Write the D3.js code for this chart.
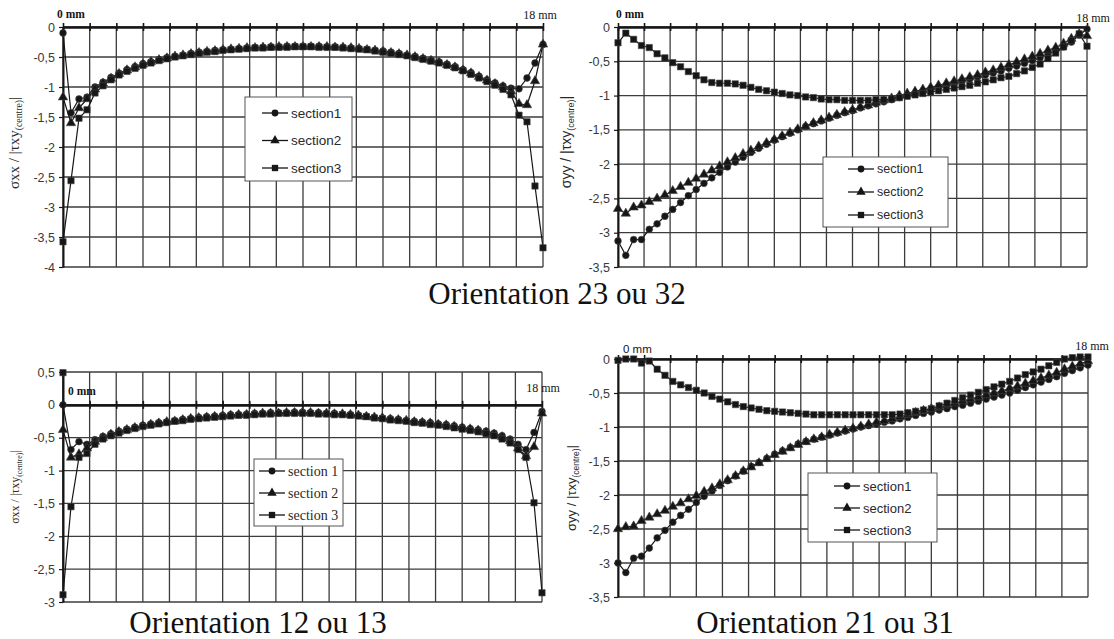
<!DOCTYPE html>
<html>
<head>
<meta charset="utf-8">
<script src="https://cdnjs.cloudflare.com/ajax/libs/d3/7.8.5/d3.min.js"></script>
<style>
  body { margin: 0; background: #fff; }
  svg { display: block; }
</style>
</head>
<body>
<svg id="chart" width="1114" height="639"></svg>
<script>
// positions along the specimen (mm)
const positionsMm = [
  0, 0.3, 0.6, 0.9, 1.2, 1.5, 1.8, 2.1, 2.4, 2.7,
  3, 3.3, 3.6, 3.9, 4.2, 4.5, 4.8, 5.1, 5.4, 5.7,
  6, 6.3, 6.6, 6.9, 7.2, 7.5, 7.8, 8.1, 8.4, 8.7,
  9, 9.3, 9.6, 9.9, 10.2, 10.5, 10.8, 11.1, 11.4, 11.7,
  12, 12.3, 12.6, 12.9, 13.2, 13.5, 13.8, 14.1, 14.4, 14.7,
  15, 15.3, 15.6, 15.9, 16.2, 16.5, 16.8, 17.1, 17.4, 17.7,
  18
];
// section3 of orientation 12 has an extra point at 0 mm
const positionsMmLead = [0].concat(positionsMm);
const gridMm = [0, 1, 2, 3, 4, 5, 6, 7, 8, 9, 10, 11, 12, 13, 14, 15, 16, 17, 18];

const ticksXx23 = [0, -0.5, -1, -1.5, -2, -2.5, -3, -3.5, -4];
const ticksYy = [0, -0.5, -1, -1.5, -2, -2.5, -3, -3.5];
const ticksXx12 = [0.5, 0, -0.5, -1, -1.5, -2, -2.5, -3];

const sectionLabels = ['section1', 'section2', 'section3'];
const sectionLabelsSpaced = ['section 1', 'section 2', 'section 3'];

// Orientation 23 ou 32, sigma xx
const xx23Sec1 = [
  -0.1, -1.43, -1.2, -1.17, -1.0, -0.92, -0.84, -0.77, -0.71, -0.66,
  -0.61, -0.58, -0.54, -0.51, -0.49, -0.47, -0.44, -0.42, -0.41, -0.39,
  -0.38, -0.37, -0.36, -0.35, -0.34, -0.34, -0.33, -0.33, -0.32, -0.32,
  -0.32, -0.32, -0.32, -0.33, -0.33, -0.34, -0.35, -0.36, -0.37, -0.39,
  -0.4, -0.42, -0.44, -0.47, -0.49, -0.52, -0.55, -0.58, -0.62, -0.66,
  -0.71, -0.76, -0.82, -0.88, -0.93, -0.98, -1.02, -1.03, -0.85, -0.6,
  -0.29
];
const xx23Sec2 = [
  -1.17, -1.6, -1.35, -1.2, -1.04, -0.94, -0.86, -0.78, -0.72, -0.67,
  -0.62, -0.58, -0.55, -0.52, -0.49, -0.47, -0.45, -0.43, -0.41, -0.4,
  -0.38, -0.37, -0.36, -0.35, -0.35, -0.34, -0.34, -0.33, -0.33, -0.33,
  -0.33, -0.33, -0.33, -0.33, -0.34, -0.34, -0.35, -0.36, -0.38, -0.39,
  -0.41, -0.43, -0.45, -0.47, -0.5, -0.53, -0.56, -0.59, -0.63, -0.67,
  -0.72, -0.77, -0.83, -0.89, -0.95, -1.0, -1.07, -1.28, -1.3, -0.9,
  -0.29
];
const xx23Sec3 = [
  -3.58, -2.56, -1.52, -1.38, -1.1, -0.98, -0.88, -0.8, -0.74, -0.69,
  -0.64, -0.6, -0.56, -0.53, -0.5, -0.48, -0.46, -0.44, -0.42, -0.41,
  -0.39, -0.38, -0.37, -0.36, -0.35, -0.35, -0.34, -0.34, -0.34, -0.33,
  -0.33, -0.33, -0.34, -0.34, -0.34, -0.35, -0.36, -0.37, -0.38, -0.4,
  -0.42, -0.44, -0.46, -0.48, -0.51, -0.54, -0.57, -0.6, -0.64, -0.68,
  -0.73, -0.79, -0.85, -0.91, -0.97, -1.04, -1.13, -1.47, -1.58, -2.65,
  -3.68
];

// Orientation 23 ou 32, sigma yy
const yy23Sec1 = [
  -3.12, -3.33, -3.1, -3.1, -2.95, -2.87, -2.76, -2.66, -2.56, -2.46,
  -2.37, -2.28, -2.2, -2.12, -2.04, -1.97, -1.9, -1.83, -1.77, -1.71,
  -1.65, -1.6, -1.55, -1.5, -1.45, -1.41, -1.37, -1.33, -1.29, -1.25,
  -1.22, -1.18, -1.15, -1.12, -1.09, -1.06, -1.03, -1.0, -0.97, -0.94,
  -0.91, -0.88, -0.85, -0.82, -0.79, -0.76, -0.73, -0.7, -0.67, -0.64,
  -0.6, -0.57, -0.53, -0.49, -0.45, -0.4, -0.35, -0.29, -0.22, -0.12,
  -0.03
];
const yy23Sec2 = [
  -2.65, -2.72, -2.63, -2.6, -2.55, -2.5, -2.45, -2.39, -2.33, -2.27,
  -2.21, -2.15, -2.09, -2.03, -1.97, -1.91, -1.85, -1.8, -1.74, -1.69,
  -1.64, -1.59, -1.54, -1.49, -1.45, -1.4, -1.36, -1.32, -1.28, -1.24,
  -1.21, -1.17, -1.14, -1.1, -1.07, -1.04, -1.0, -0.97, -0.94, -0.91,
  -0.88, -0.85, -0.82, -0.79, -0.76, -0.73, -0.7, -0.66, -0.63, -0.59,
  -0.55, -0.51, -0.47, -0.43, -0.39, -0.34, -0.3, -0.24, -0.17, -0.1,
  -0.13
];
const yy23Sec3 = [
  -0.23, -0.09, -0.18, -0.27, -0.3, -0.39, -0.45, -0.52, -0.58, -0.65,
  -0.71, -0.77, -0.81, -0.82, -0.82, -0.83, -0.85, -0.88, -0.91, -0.93,
  -0.95, -0.97, -0.99, -1.0, -1.02, -1.03, -1.05, -1.06, -1.06, -1.07,
  -1.07, -1.07, -1.07, -1.06, -1.06, -1.05, -1.03, -1.01, -0.99, -0.97,
  -0.95, -0.93, -0.91, -0.89, -0.87, -0.85, -0.82, -0.8, -0.77, -0.74,
  -0.72, -0.68, -0.64, -0.59, -0.54, -0.46, -0.38, -0.29, -0.2, -0.1,
  -0.28
];

// Orientation 12 ou 13, sigma xx
const xx12Sec1 = [
  0.0, -0.68, -0.56, -0.6, -0.53, -0.48, -0.44, -0.4, -0.37, -0.34,
  -0.31, -0.29, -0.27, -0.26, -0.24, -0.22, -0.21, -0.19, -0.18, -0.17,
  -0.16, -0.15, -0.15, -0.14, -0.13, -0.13, -0.12, -0.12, -0.12, -0.11,
  -0.11, -0.12, -0.12, -0.13, -0.13, -0.14, -0.15, -0.16, -0.17, -0.19,
  -0.2, -0.21, -0.22, -0.24, -0.25, -0.26, -0.27, -0.29, -0.3, -0.32,
  -0.34, -0.36, -0.38, -0.4, -0.43, -0.47, -0.52, -0.6, -0.68, -0.42,
  -0.1
];
const xx12Sec2 = [
  -0.38, -0.8, -0.75, -0.66, -0.56, -0.5, -0.45, -0.41, -0.38, -0.35,
  -0.32, -0.3, -0.28, -0.26, -0.25, -0.23, -0.21, -0.2, -0.19, -0.18,
  -0.17, -0.16, -0.15, -0.15, -0.14, -0.13, -0.13, -0.13, -0.12, -0.12,
  -0.12, -0.12, -0.13, -0.13, -0.14, -0.14, -0.15, -0.16, -0.18, -0.19,
  -0.2, -0.22, -0.23, -0.24, -0.26, -0.27, -0.28, -0.3, -0.31, -0.33,
  -0.35, -0.37, -0.39, -0.42, -0.45, -0.49, -0.55, -0.66, -0.78, -0.64,
  -0.13
];
const xx12Sec3 = [
  0.49,
  -2.89, -1.55, -0.8, -0.74, -0.6, -0.52, -0.47, -0.43, -0.39, -0.36,
  -0.33, -0.31, -0.29, -0.27, -0.25, -0.24, -0.22, -0.21, -0.2, -0.19,
  -0.18, -0.17, -0.16, -0.16, -0.15, -0.14, -0.14, -0.13, -0.13, -0.13,
  -0.13, -0.13, -0.14, -0.14, -0.15, -0.15, -0.16, -0.17, -0.18, -0.2,
  -0.21, -0.23, -0.24, -0.25, -0.27, -0.28, -0.3, -0.31, -0.33, -0.35,
  -0.37, -0.39, -0.41, -0.44, -0.47, -0.52, -0.58, -0.68, -0.8, -1.49,
  -2.86
];

// Orientation 21 ou 31, sigma yy
const yy21Sec1 = [
  -3.0, -3.14, -2.93, -2.9, -2.78, -2.63, -2.52, -2.4, -2.3, -2.21,
  -2.11, -2.02, -1.94, -1.86, -1.79, -1.72, -1.65, -1.58, -1.52, -1.46,
  -1.4, -1.35, -1.3, -1.25, -1.21, -1.18, -1.15, -1.12, -1.09, -1.06,
  -1.03, -1.0, -0.98, -0.96, -0.93, -0.91, -0.88, -0.86, -0.83, -0.8,
  -0.78, -0.75, -0.73, -0.7, -0.68, -0.65, -0.62, -0.59, -0.56, -0.53,
  -0.5, -0.46, -0.42, -0.38, -0.34, -0.3, -0.26, -0.21, -0.17, -0.13,
  -0.09
];
const yy21Sec2 = [
  -2.5, -2.47, -2.46, -2.38, -2.33, -2.28, -2.23, -2.17, -2.12, -2.06,
  -2.01, -1.95, -1.9, -1.84, -1.78, -1.72, -1.65, -1.59, -1.53, -1.47,
  -1.41, -1.36, -1.31, -1.26, -1.22, -1.18, -1.15, -1.11, -1.08, -1.05,
  -1.02, -0.99, -0.96, -0.93, -0.91, -0.88, -0.85, -0.82, -0.79, -0.76,
  -0.73, -0.71, -0.68, -0.65, -0.62, -0.59, -0.56, -0.53, -0.5, -0.47,
  -0.43, -0.4, -0.36, -0.32, -0.28, -0.24, -0.2, -0.15, -0.11, -0.07,
  -0.03
];
const yy21Sec3 = [
  -0.02, 0.0, 0.0, -0.06, -0.03, -0.15, -0.24, -0.33, -0.38, -0.42,
  -0.46, -0.5, -0.55, -0.59, -0.63, -0.67, -0.7, -0.72, -0.74, -0.76,
  -0.77, -0.78, -0.79, -0.8, -0.81, -0.82, -0.82, -0.82, -0.82, -0.82,
  -0.82, -0.82, -0.82, -0.82, -0.82, -0.82, -0.81, -0.79, -0.77, -0.75,
  -0.73, -0.69, -0.65, -0.61, -0.57, -0.53, -0.49, -0.45, -0.41, -0.37,
  -0.33, -0.28, -0.23, -0.19, -0.15, -0.1, -0.05, 0.0, 0.02, 0.03,
  0.03
];

const SERIF = '"Liberation Serif", "Times New Roman", serif';
const SANS = '"Liberation Sans", Arial, sans-serif';
const INK = '#161616';
const symbols = [d3.symbolCircle, d3.symbolTriangle, d3.symbolSquare];
const symbolSizes = [36, 38, 40];

const svg = d3.select('#chart');
const fmt = (d) => String(d).replace('.', ',');

function drawPanel(p) {
  const x = d3.scaleLinear().domain([0, 18]).range([p.left, p.right]);
  const y = d3.scaleLinear().domain(p.domain).range([p.bottom, p.top]);
  const g = svg.append('g');

  // grid
  g.append('g')
    .selectAll('line')
    .data(gridMm)
    .join('line')
    .attr('x1', (d) => x(d))
    .attr('x2', (d) => x(d))
    .attr('y1', y(p.domain[1]))
    .attr('y2', y(p.domain[0]))
    .attr('stroke', '#3c3c3c')
    .attr('stroke-width', 1.3);
  g.append('g')
    .selectAll('line')
    .data(p.ticks)
    .join('line')
    .attr('x1', x(0))
    .attr('x2', x(18))
    .attr('y1', (d) => y(d))
    .attr('y2', (d) => y(d))
    .attr('stroke', '#3c3c3c')
    .attr('stroke-width', 1.3);

  // y axis
  const yAxis = d3.axisLeft(y).tickValues(p.ticks).tickSize(4).tickSizeOuter(0).tickFormat(fmt);
  const ya = g.append('g').attr('transform', `translate(${x(0)},0)`).call(yAxis);
  ya.select('.domain').attr('stroke', INK).attr('stroke-width', 2);
  ya.selectAll('.tick line').attr('stroke', INK).attr('stroke-width', 1.2);
  ya.selectAll('text')
    .attr('x', -8)
    .style('font-family', SANS)
    .style('font-size', '12.5px')
    .style('fill', '#3a3a3a');

  // zero line with crossing ticks
  const zero = g.append('g').attr('transform', `translate(0,${y(0)})`);
  zero.append('g').call(d3.axisTop(x).tickValues(gridMm).tickSize(4).tickSizeOuter(0).tickFormat(''));
  zero.append('g').call(d3.axisBottom(x).tickValues(gridMm).tickSize(4).tickSizeOuter(0).tickFormat(''));
  zero.selectAll('.domain').attr('stroke', INK).attr('stroke-width', 2.2);
  zero.selectAll('.tick line').attr('stroke', INK).attr('stroke-width', 1.6);

  // series
  const line = d3.line().x((d) => x(d[0])).y((d) => y(d[1]));
  p.series.forEach((s, i) => {
    const xs = s.xs || positionsMm;
    const pts = s.values.map((v, k) => [xs[k], v]);
    g.append('path')
      .datum(pts)
      .attr('d', line)
      .attr('fill', 'none')
      .attr('stroke', INK)
      .attr('stroke-width', 1.2);
    g.append('g')
      .selectAll('path')
      .data(pts)
      .join('path')
      .attr('transform', (d) => `translate(${x(d[0])},${y(d[1])})`)
      .attr('d', d3.symbol().type(symbols[i]).size(symbolSizes[i]))
      .attr('fill', INK)
      .attr('stroke', '#444')
      .attr('stroke-width', 0.6);
  });

  // end labels
  g.append('text')
    .attr('x', x(0) + p.zeroLabel.dx)
    .attr('y', y(p.zeroLabel.at) + p.zeroLabel.dy)
    .style('font-family', p.zeroLabel.font)
    .style('font-weight', p.zeroLabel.font === SERIF ? 'bold' : 'normal')
    .style('font-size', '11.5px')
    .style('fill', INK)
    .text('0 mm');
  g.append('text')
    .attr('x', x(18) + p.endLabel.dx)
    .attr('y', y(p.endLabel.at) + p.endLabel.dy)
    .attr('text-anchor', 'middle')
    .style('font-family', SERIF)
    .style('font-size', '12px')
    .style('fill', INK)
    .text('18 mm');

  // legend
  const L = p.legend;
  g.append('rect')
    .attr('x', L.x)
    .attr('y', L.y)
    .attr('width', L.w)
    .attr('height', L.h)
    .attr('fill', '#fff')
    .attr('stroke', '#555')
    .attr('stroke-width', 1);
  L.labels.forEach((lab, i) => {
    const cy = L.y + L.first + i * L.step;
    g.append('line')
      .attr('x1', L.x + L.sx)
      .attr('x2', L.x + L.sx + 26)
      .attr('y1', cy)
      .attr('y2', cy)
      .attr('stroke', INK)
      .attr('stroke-width', 1.3);
    g.append('path')
      .attr('transform', `translate(${L.x + L.sx + 13},${cy})`)
      .attr('d', d3.symbol().type(symbols[i]).size(symbolSizes[i]))
      .attr('fill', INK);
    g.append('text')
      .attr('x', L.x + L.sx + 29)
      .attr('y', cy)
      .attr('dy', '0.35em')
      .style('font-family', L.font)
      .style('font-size', L.size)
      .style('fill', '#2a2a2a')
      .text(lab);
  });

  // y title
  const t = g.append('text')
    .attr('transform', `translate(${p.title.x},${(p.top + p.bottom) / 2 + p.title.dy}) rotate(-90)`)
    .attr('text-anchor', 'middle')
    .style('font-family', p.title.font)
    .style('font-size', p.title.size)
    .style('fill', '#2a2a2a');
  t.append('tspan').text(p.title.main);
  t.append('tspan').attr('dy', 3).style('font-size', '65%').text('(centre)');
  t.append('tspan').attr('dy', -3).text('|');
}

drawPanel({
  left: 63, right: 543, top: 27, bottom: 267,
  domain: [-4, 0], ticks: ticksXx23,
  series: [{ values: xx23Sec1 }, { values: xx23Sec2 }, { values: xx23Sec3 }],
  zeroLabel: { at: 0, dx: -6, dy: -9, font: SERIF },
  endLabel: { at: 0, dx: -3, dy: -8 },
  legend: { x: 245, y: 97, w: 107, h: 84, first: 16, step: 27.5, sx: 17, labels: sectionLabels, font: SANS, size: '13.5px' },
  title: { x: 19, dy: -4, font: SERIF, size: '15px', main: 'σxx / |τxy' }
});

drawPanel({
  left: 618, right: 1087, top: 27, bottom: 267,
  domain: [-3.5, 0], ticks: ticksYy,
  series: [{ values: yy23Sec1 }, { values: yy23Sec2 }, { values: yy23Sec3 }],
  zeroLabel: { at: 0, dx: -2, dy: -9, font: SERIF },
  endLabel: { at: 0, dx: 6, dy: -5 },
  legend: { x: 823, y: 157, w: 125, h: 70, first: 12, step: 23, sx: 25, labels: sectionLabels, font: SANS, size: '12.5px' },
  title: { x: 571, dy: -5, font: SANS, size: '14px', main: 'σyy / |τxy' }
});

drawPanel({
  left: 63, right: 542, top: 372, bottom: 602,
  domain: [-3, 0.5], ticks: ticksXx12,
  series: [{ values: xx12Sec1 }, { values: xx12Sec2 }, { values: xx12Sec3, xs: positionsMmLead }],
  zeroLabel: { at: 0, dx: 5, dy: -10, font: SERIF },
  endLabel: { at: 0, dx: 1, dy: -13 },
  legend: { x: 254, y: 459, w: 89, h: 67, first: 12, step: 22, sx: 5, labels: sectionLabelsSpaced, font: SERIF, size: '14px' },
  title: { x: 19, dy: 0, font: SERIF, size: '12px', main: 'σxx / |τxy' }
});

drawPanel({
  left: 618, right: 1088, top: 359, bottom: 597,
  domain: [-3.5, 0], ticks: ticksYy,
  series: [{ values: yy21Sec1 }, { values: yy21Sec2 }, { values: yy21Sec3 }],
  zeroLabel: { at: 0, dx: 5, dy: -6, font: SANS },
  endLabel: { at: 0, dx: 4, dy: -9 },
  legend: { x: 808, y: 473, w: 129, h: 69, first: 13, step: 22, sx: 26, labels: sectionLabels, font: SANS, size: '13px' },
  title: { x: 576, dy: 10, font: SANS, size: '13px', main: 'σyy / |τxy' }
});

// captions
const captions = [
  { text: 'Orientation 23 ou 32', x: 557, y: 304 },
  { text: 'Orientation 12 ou 13', x: 258, y: 633 },
  { text: 'Orientation 21 ou 31', x: 825, y: 633 }
];
svg.append('g')
  .selectAll('text')
  .data(captions)
  .join('text')
  .attr('x', (d) => d.x)
  .attr('y', (d) => d.y)
  .attr('text-anchor', 'middle')
  .style('font-family', SERIF)
  .style('font-size', '31px')
  .style('fill', '#111')
  .text((d) => d.text);
</script>
</body>
</html>
